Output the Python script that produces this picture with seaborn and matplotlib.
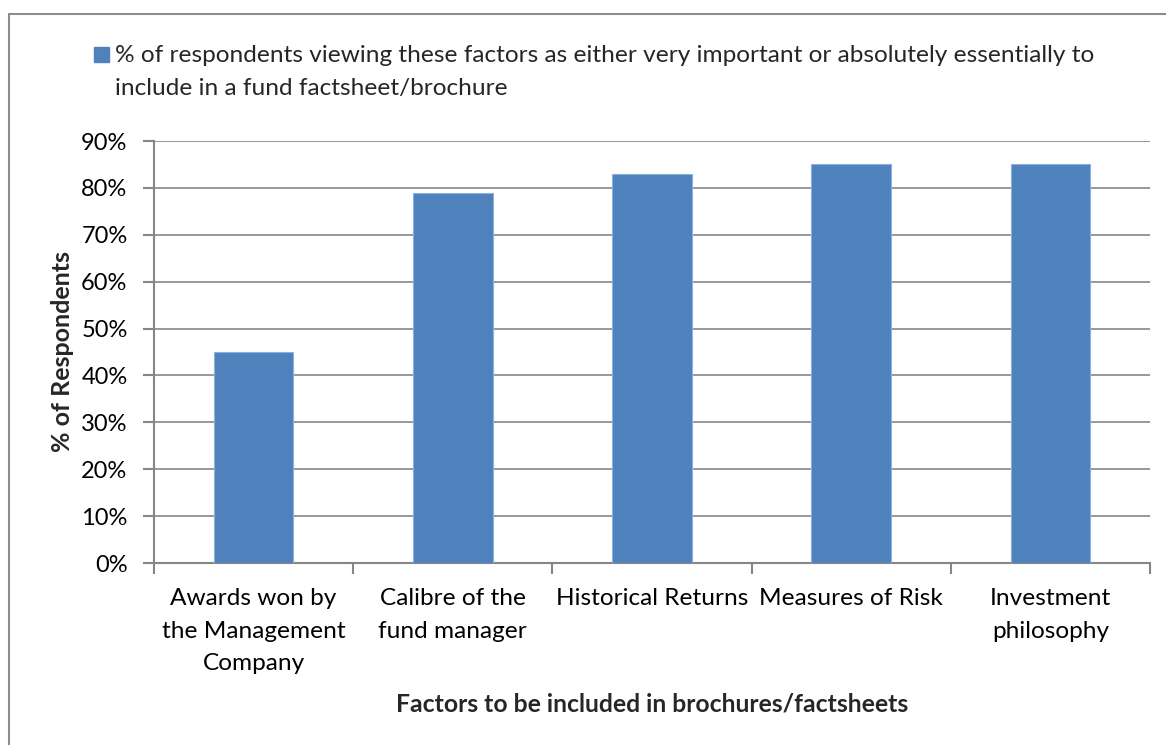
import matplotlib
matplotlib.use("Agg")
import matplotlib.pyplot as plt
from matplotlib.patches import Rectangle
import seaborn as sns
import pandas as pd

categories = ["Awards won by\nthe Management\nCompany", "Calibre of the\nfund manager",
              "Historical Returns", "Measures of Risk", "Investment\nphilosophy"]
values = [45, 79, 83, 85, 85]
yticks = [0, 10, 20, 30, 40, 50, 60, 70, 80, 90]
series_label = ("% of respondents viewing these factors as either very important or absolutely essentially to\n"
                "include in a fund factsheet/brochure")

sns.set_theme(style="white")
plt.rcParams['font.family'] = ['Lato', 'DejaVu Sans']

W, H = 1166, 745
FS = 17.6
fig = plt.figure(figsize=(W / 100, H / 100), dpi=100)
ax = fig.add_axes([154 / W, 1 - 563 / H, (1150 - 154) / W, (563 - 141) / H])

blue = "#4F81BD"
df = pd.DataFrame({"cat": categories, "val": values})
sns.barplot(data=df, x="cat", y="val", color=blue, width=0.4, saturation=1,
            edgecolor="#8EB0DC", linewidth=0.8, ax=ax, zorder=3)

grey = "#868686"
ax.set_ylim(0, 90)
ax.set_xlim(-0.5, len(categories) - 0.5)
ax.set_yticks(yticks)
ax.set_yticklabels([f"{t}%" for t in yticks])
ax.yaxis.grid(True, color=grey, linewidth=1.2, zorder=0)
ax.set_axisbelow(True)
for s in ["top", "right"]:
    ax.spines[s].set_visible(False)
for s in ["left", "bottom"]:
    ax.spines[s].set_color(grey)
    ax.spines[s].set_linewidth(1.5)

# x ticks at category boundaries
ax.set_xticks([i - 0.5 for i in range(len(categories) + 1)], minor=True)
ax.set_xticks(range(len(categories)))
ax.set_xticklabels(categories, fontsize=FS, linespacing=1.69)
ax.tick_params(axis="x", which="major", length=0, pad=18, colors="black")
ax.tick_params(axis="x", which="minor", length=8, width=1.5, color=grey, bottom=True)
ax.tick_params(axis="y", length=8, width=1.5, color=grey, left=True, pad=11, labelsize=17, labelcolor="black")

ax.set_xlabel("Factors to be included in brochures/factsheets", fontsize=17.8, fontweight="bold")
ax.set_ylabel("% of Respondents", fontsize=18, fontweight="bold")
ax.xaxis.set_label_coords(0.5, -0.308)
ax.yaxis.set_label_coords(-0.080, 0.5)

# legend: square marker and wrapped label
fig.patches.append(Rectangle((94 / W, 1 - 62 / H), 15 / W, 15 / H, transform=fig.transFigure,
                             facecolor=blue, edgecolor=blue))
fig.text(115 / W, 1 - 95 / H, series_label, fontsize=FS, va="baseline", ha="left",
         linespacing=1.68)

fig.patches.append(Rectangle((9 / W, -0.2), 1.5, 1.2 - 14 / H, transform=fig.transFigure,
                             fill=False, edgecolor="#8C8C8C", linewidth=1.5))

fig.savefig("out.png", dpi=100)
